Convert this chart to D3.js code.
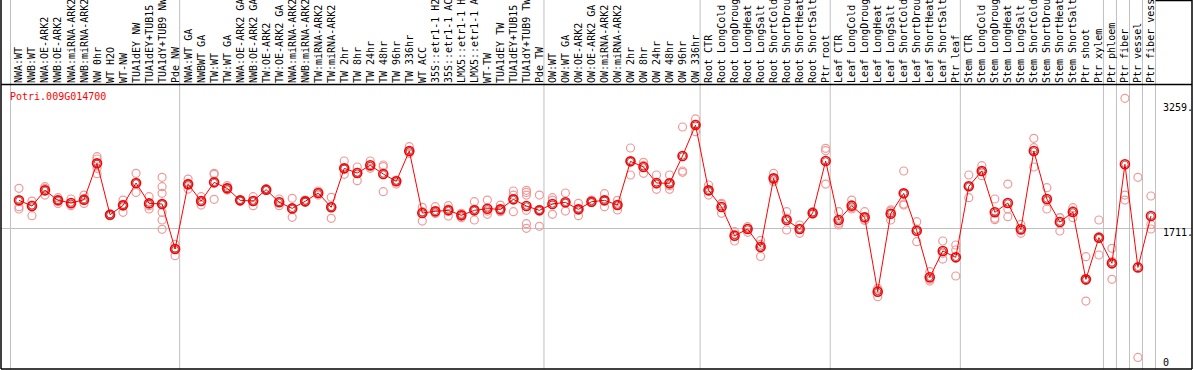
<!DOCTYPE html>
<html>
<head>
<meta charset="utf-8">
<script src="https://cdn.jsdelivr.net/npm/d3@7"></script>
<style>
    body { margin: 0; background: #fff; }
    text { font-family: "DejaVu Sans Mono", monospace; font-size: 10px; }
</style>
</head>
<body>
<div id="chart"></div>
<script>
const geneName = "Potri.009G014700";

const labels = [
    "NWA:WT", "NWB:WT", "NWA:OE-ARK2", "NWB:OE-ARK2", "NWA:miRNA-ARK2", "NWB:miRNA-ARK2",
    "NW 0hr", "WT H2O", "WT-NW", "TUA1dEY NW", "TUA1dEY+TUB15 NW", "TUA1dY+TUB9 NW", "Pde NW",
    "NWA:WT GA", "NWBWT GA", "TW:WT", "TW:WT GA", "NWA:OE-ARK2 GA", "NWB:OE-ARK2 GA",
    "TW:OE-ARK2", "TW:OE-ARK2 GA", "NWA:miRNA-ARK2 GA", "NWB:miRNA-ARK2 GA", "TW:miRNA-ARK2",
    "TW:miRNA-ARK2 GA", "TW 2hr", "TW 8hr", "TW 24hr", "TW 48hr", "TW 96hr", "TW 336hr", "WT ACC",
    "35S::etr1-1 H2O", "35S::etr1-1 ACC", "LMX5::etr1-1 H2O", "LMX5::etr1-1 ACC", "WT-TW",
    "TUA1dEY TW", "TUA1dEY+TUB15 TW", "TUA1dY+TUB9 TW", "Pde TW",
    "OW:WT", "OW:WT GA", "OW:OE-ARK2", "OW:OE-ARK2 GA", "OW:miRNA-ARK2", "OW:miRNA-ARK2 GA",
    "OW 2hr", "OW 8hr", "OW 24hr", "OW 48hr", "OW 96hr", "OW 336hr",
    "Root CTR", "Root LongCold", "Root LongDrought", "Root LongHeat", "Root LongSalt",
    "Root ShortCold", "Root ShortDrought", "Root ShortHeat", "Root ShortSalt", "Ptr root",
    "Leaf CTR", "Leaf LongCold", "Leaf LongDrought", "Leaf LongHeat", "Leaf LongSalt",
    "Leaf ShortCold", "Leaf ShortDrought", "Leaf ShortHeat", "Leaf ShortSalt", "Ptr leaf",
    "Stem CTR", "Stem LongCold", "Stem LongDrought", "Stem LongHeat", "Stem LongSalt",
    "Stem ShortCold", "Stem ShortDrought", "Stem ShortHeat", "Stem ShortSalt", "Ptr shoot", "Ptr xylem",
    "Ptr phloem", "Ptr fiber", "Ptr vessel", "Ptr fiber vessel"
];

// number of columns in each experiment block (gray separators between them)
const groupSizes = [13, 28, 12, 10, 10, 11, 1, 1, 1, 1];

const means = [
    2079, 2004, 2211, 2079, 2044, 2088, 2567, 1890, 2013, 2308,
    2039, 2031, 1437, 2290, 2070, 2316, 2237, 2079, 2070, 2220,
    2053, 1973, 2066, 2176, 1987, 2501, 2439, 2541, 2426, 2330,
    2730, 1912, 1934, 1947, 1881, 1947, 1969, 1960, 2092, 2004,
    1947, 2031, 2053, 1960, 2061, 2079, 2017, 2593, 2519, 2308,
    2303, 2664, 3072, 2211, 1991, 1613, 1701, 1464, 2369, 1820,
    1701, 1912, 2598, 1820, 2009, 1855, 874, 1903, 2171, 1679,
    1064, 1411, 1327, 2264, 2466, 1921, 2044, 1697, 2730, 2097,
    1793, 1925, 1037, 1587, 1248, 2554, 1195, 1872
];

const replicates = [
    [2237, 1995, 1965], [2070, 1877, 2017], [2259, 2149, 2237], [2114, 2039, 2083],
    [2097, 2009, 2026], [2149, 2039, 2083], [2655, 2624, 2431, 2501], [1900, 1877, 1894],
    [2083, 1921, 2026], [2435, 2184, 2303], [2127, 1965, 2009],
    [2382, 2259, 2171, 1921, 1820, 1697, 2026], [1499, 1349, 1446],
    [2360, 2228, 2303], [2127, 2017, 2061], [2422, 2435, 2092], [2272, 2215, 2246],
    [2083, 2070, 2079], [2127, 2009, 2070], [2228, 2211, 2220], [2097, 2009, 2061],
    [2105, 1855, 1965], [2083, 2053, 2061], [2202, 2149, 2176], [2119, 1842, 1995],
    [2598, 2422, 2492], [2519, 2338, 2448], [2598, 2501, 2523], [2545, 2193, 2523],
    [2347, 2294, 2330], [2787, 2721, 2699], [1987, 1806, 1930], [1995, 1908, 1908],
    [2009, 1872, 1965], [1908, 1850, 1886], [2061, 1820, 1965], [2083, 1894, 1938],
    [2017, 1930, 1938], [2202, 1930, 2149], [2211, 2184, 2149, 1947, 1771, 1710],
    [2149, 1736, 1956],
    [2114, 1894, 2083], [2176, 1938, 2044], [2039, 1877, 1965], [2083, 2053, 2048],
    [2167, 1995, 2075], [2079, 1952, 2017], [2769, 2413, 2598], [2580, 2435, 2541],
    [2413, 2224, 2290], [2413, 2224, 2272], [3046, 2466, 2448], [3152, 2985, 3081],
    [2281, 2149, 2202], [2039, 1908, 2026], [1666, 1543, 1631], [1732, 1657, 1710],
    [1551, 1340, 1499], [2435, 2347, 2325], [1930, 1688, 1842], [1754, 1644, 1701],
    [1930, 1894, 1912], [2765, 2734, 2294],
    [1930, 1754, 1776], [2083, 1965, 1982], [1930, 1820, 1815], [918, 809, 896],
    [1952, 1820, 1938], [2466, 2017, 2031], [1798, 1534, 1701], [1138, 1015, 1037],
    [1543, 1305, 1380], [1490, 1424, 1081],
    [2413, 2114, 2264], [2536, 2404, 2457], [2097, 1824, 1842], [2294, 1965, 1864],
    [1762, 1644, 1683], [2897, 2519, 2774], [2246, 1965, 2070], [1850, 1675, 1850],
    [1982, 1850, 1943], [1336, 751, 1024], [1820, 1358, 1578],
    [1446, 1270, 1037], [3424, 2149, 2083], [2382, 8], [2136, 1762, 1701]
];

const overallMean = 1711;
const tickValues = [0, overallMean, 3259];

const chart = {
    width: 1194,
    height: 370,
    headerHeight: 85,
    plotLeft: 10.5,
    plotRight: 1155.5,
    lineColor: "#ff0000",
    repColor: "#f09a9a",
    gridColor: "#c0c0c0",
    plot: function() {
        const _self = chart;

        const svg = d3.select("#chart")
            .append("svg")
            .attr("width", _self.width)
            .attr("height", _self.height);

        const x = d3.scaleBand()
            .domain(d3.range(labels.length))
            .range([_self.plotLeft, _self.plotRight]);
        // marks sit a little right of the band centre in the original
        const px = (i) => x(i) + x.bandwidth() * 0.65;

        const y = d3.scaleLinear()
            .domain([0, 3600])
            .range([358, _self.headerHeight]);

        // group separators
        let starts = [0];
        groupSizes.forEach((n) => starts.push(starts[starts.length - 1] + n));
        svg.append("g")
            .selectAll("line")
            .data(starts)
            .enter()
            .append("line")
            .attr("x1", (d) => d < labels.length ? x(d) : _self.plotRight)
            .attr("x2", (d) => d < labels.length ? x(d) : _self.plotRight)
            .attr("y1", 0)
            .attr("y2", _self.height - 1)
            .style("stroke", _self.gridColor)
            .style("stroke-width", 1);

        // mean line
        svg.append("line")
            .attr("x1", 1)
            .attr("x2", _self.width - 2)
            .attr("y1", Math.round(y(overallMean)) + 0.5)
            .attr("y2", Math.round(y(overallMean)) + 0.5)
            .style("stroke", _self.gridColor);

        // frame
        const frame = svg.append("g").style("stroke", "#000").style("stroke-width", 1.5);
        frame.append("line").attr("x1", 1).attr("x2", 1).attr("y1", 0).attr("y2", _self.height - 1);
        frame.append("line").attr("x1", 1).attr("x2", _self.width - 2).attr("y1", _self.height - 1).attr("y2", _self.height - 1);
        frame.append("line").attr("x1", _self.width - 2).attr("x2", _self.width - 2).attr("y1", 0).attr("y2", _self.height - 1);
        frame.append("line").attr("x1", 1).attr("x2", _self.width - 2).attr("y1", _self.headerHeight - 0.5).attr("y2", _self.headerHeight - 0.5);
        frame.append("line").attr("x1", _self.plotRight).attr("x2", _self.width - 2).attr("y1", 0.5).attr("y2", 0.5);

        // column labels
        svg.append("g")
            .selectAll("text")
            .data(labels)
            .enter()
            .append("text")
            .text((d) => d)
            .attr("transform", (d, i) => `translate(${px(i)},83) rotate(-90)`)
            .attr("dy", "0.35em")
            .style("fill", "#000");

        // y tick labels
        svg.append("g")
            .selectAll("text")
            .data(tickValues)
            .enter()
            .append("text")
            .text((d) => d === 0 ? "0" : d + ".")
            .attr("x", 1163)
            .attr("y", (d, i) => i === tickValues.length - 1 ? y(d) : y(d) + 8)
            .style("fill", "#000");

        svg.append("text")
            .text(geneName)
            .attr("x", 10)
            .attr("y", 100)
            .style("fill", _self.lineColor);

        // replicates
        const repPoints = [];
        replicates.forEach((reps, i) => reps.forEach((v) => repPoints.push([i, v])));

        svg.append("g")
            .selectAll("circle")
            .data(repPoints)
            .enter()
            .append("circle")
            .attr("cx", (d) => px(d[0]))
            .attr("cy", (d) => y(d[1]))
            .attr("r", 4)
            .style("fill", "none")
            .style("stroke", _self.repColor)
            .style("stroke-width", 1.2);

        const line = d3.line()
            .x((d, i) => px(i))
            .y((d) => y(d));

        svg.append("path")
            .datum(means)
            .attr("d", line)
            .style("fill", "none")
            .style("stroke", _self.lineColor)
            .style("stroke-width", 1);

        const meanG = svg.append("g")
            .selectAll("g")
            .data(means)
            .enter()
            .append("g")
            .attr("transform", (d, i) => `translate(${px(i)},${y(d)})`);

        meanG.append("circle")
            .attr("r", 4.5)
            .style("fill", "none")
            .style("stroke", _self.lineColor)
            .style("stroke-width", 1.6);

        meanG.append("circle")
            .attr("r", 3.2)
            .style("fill", "none")
            .style("stroke", "#600")
            .style("stroke-width", 0.6);
    }
};

chart.plot();
</script>
</body>
</html>
